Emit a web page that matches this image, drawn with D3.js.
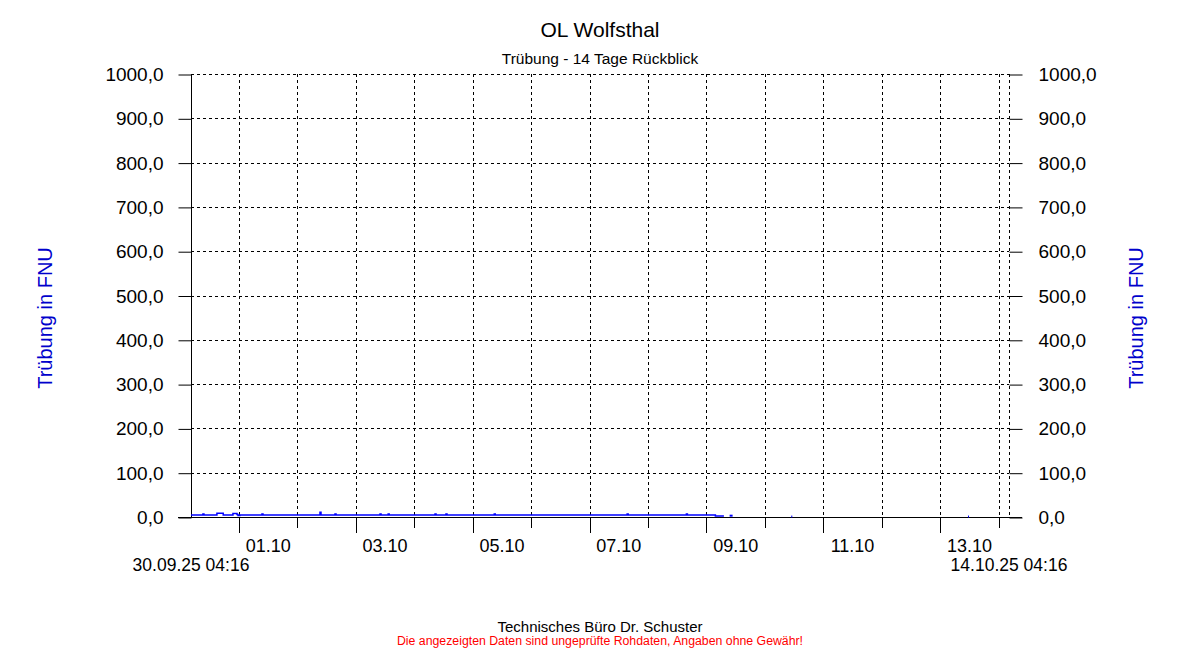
<!DOCTYPE html>
<html>
<head>
<meta charset="utf-8">
<title>OL Wolfsthal</title>
<script src="https://d3js.org/d3.v7.min.js"></script>
<style>
  html, body { margin:0; padding:0; background:#fff; }
  svg { display:block; font-family:"Liberation Sans", Arial, sans-serif; }
</style>
</head>
<body>
<svg id="chart" width="1200" height="650"></svg>
<script>
// time window
var startLabel = "30.09.25 04:16";
var endLabel = "14.10.25 04:16";

// y axis ticks
var yTicks = [0, 100, 200, 300, 400, 500, 600, 700, 800, 900, 1000];

// readings (FNU), continuous trace; null = gap
var readTimes = [
  "30.09.25 04:16", "30.09.25 08:45", "30.09.25 09:10", "30.09.25 09:35",
  "30.09.25 14:55", "30.09.25 17:30", "30.09.25 21:30", "30.09.25 23:10",
  "30.09.25 23:35", "01.10.25 00:20", "01.10.25 09:25", "01.10.25 09:50",
  "02.10.25 09:15", "02.10.25 09:40", "02.10.25 15:25", "02.10.25 15:50",
  "03.10.25 09:55", "03.10.25 10:20", "03.10.25 13:15", "03.10.25 13:40",
  "04.10.25 08:30", "04.10.25 08:55", "04.10.25 13:00", "04.10.25 13:25",
  "05.10.25 08:50", "05.10.25 09:15", "07.10.25 15:25", "07.10.25 15:50",
  "08.10.25 15:45", "08.10.25 16:10", "09.10.25 03:40", "09.10.25 07:10",
  "09.10.25 07:30"
];
var readValues = [
  4.5, 4.5, 6.5, 4.5,
  8.5, 4.5, 8.0, 5.5,
  3.5, 4.5, 6.5, 4.5,
  11.0, 4.5, 6.5, 4.5,
  6.5, 4.5, 6.5, 4.5,
  6.5, 4.5, 6.5, 4.5,
  6.5, 4.5, 6.5, 4.5,
  6.5, 4.5, 2.5, 2.5,
  null
];

// isolated readings after the trace
var dotTimes = ["09.10.25 09:55", "10.10.25 11:15", "13.10.25 11:50"];
var dotValues = [3.0, 1.0, 1.0];

var parse = d3.timeParse("%d.%m.%y %H:%M");
var t0 = parse(startLabel), t1 = parse(endLabel);

var svg = d3.select("#chart");
var mLeft = 191, mRight = 1009, mTop = 74, mBottom = 517;
var font = "Liberation Sans, Arial, sans-serif";

var x = d3.scaleTime().domain([t0, t1]).range([mLeft, mRight]);
var y = d3.scaleLinear().domain([0, 1000]).range([mBottom, mTop]);

var fmt = function(d) { return d3.format(".1f")(d).replace(".", ","); };

// titles
svg.append("text").attr("x", 600).attr("y", 37).attr("text-anchor", "middle")
  .attr("font-size", 21).text("OL Wolfsthal");
svg.append("text").attr("x", 600).attr("y", 64).attr("text-anchor", "middle")
  .attr("font-size", 15.5).text("Trübung - 14 Tage Rückblick");

// horizontal grid
svg.append("g").selectAll("line").data(yTicks.filter(function(d){ return d > 0; }))
  .enter().append("line")
  .attr("x1", mLeft).attr("x2", mRight)
  .attr("y1", function(d){ return Math.round(y(d)) + 0.5; })
  .attr("y2", function(d){ return Math.round(y(d)) + 0.5; })
  .attr("stroke", "#000").attr("stroke-dasharray", "3,3");

// vertical grid: each midnight plus end
var days = d3.timeDay.range(d3.timeDay.ceil(t0), t1);
svg.append("g").selectAll("line").data(days.concat([t1]))
  .enter().append("line")
  .attr("x1", function(d){ return Math.round(x(d)) + 0.5; })
  .attr("x2", function(d){ return Math.round(x(d)) + 0.5; })
  .attr("y1", mTop).attr("y2", mBottom)
  .attr("stroke", "#000").attr("stroke-dasharray", "3,3");

// left axis
var yl = svg.append("g").attr("transform", "translate(" + (mLeft + 0.5) + ",0.5)")
  .call(d3.axisLeft(y).tickValues(yTicks).tickSize(13).tickPadding(15).tickFormat(fmt));
yl.select(".domain").attr("d", "M0," + (mTop - 0.5) + "V" + (mBottom - 0.5));
yl.selectAll("text").attr("font-size", 19).attr("fill", "#000").attr("font-family", font);

// right axis ticks
var yr = svg.append("g").attr("transform", "translate(" + (mRight + 0.5) + ",0.5)")
  .call(d3.axisRight(y).tickValues(yTicks).tickSize(13).tickPadding(16).tickFormat(fmt));
yr.select(".domain").remove();
yr.selectAll("text").attr("font-size", 19).attr("fill", "#000").attr("font-family", font);

// baseline
svg.append("line").attr("x1", mLeft - 13).attr("x2", mRight + 13)
  .attr("y1", mBottom + 0.5).attr("y2", mBottom + 0.5).attr("stroke", "#000");

// x ticks: long on odd days, short on even days
svg.append("g").selectAll("line").data(days)
  .enter().append("line")
  .attr("x1", function(d){ return Math.round(x(d)) + 0.5; })
  .attr("x2", function(d){ return Math.round(x(d)) + 0.5; })
  .attr("y1", mBottom)
  .attr("y2", function(d){ return d.getDate() % 2 === 1 ? mBottom + 16 : mBottom + 11; })
  .attr("stroke", "#000");

var labelDays = days.filter(function(d){ return d.getDate() % 2 === 1; });
svg.append("g").selectAll("text").data(labelDays)
  .enter().append("text")
  .attr("x", function(d){ return x(d3.timeHour.offset(d, 12)); })
  .attr("y", 552).attr("text-anchor", "middle").attr("font-size", 18)
  .text(d3.timeFormat("%d.%m"));

svg.append("text").attr("x", mLeft).attr("y", 571).attr("text-anchor", "middle")
  .attr("font-size", 17.5).text(startLabel);
svg.append("text").attr("x", mRight).attr("y", 571).attr("text-anchor", "middle")
  .attr("font-size", 17.5).text(endLabel);

// axis titles
svg.append("text").attr("transform", "translate(52,318) rotate(-90)")
  .attr("text-anchor", "middle").attr("font-size", 20).attr("fill", "#0000cc")
  .text("Trübung in FNU");
svg.append("text").attr("transform", "translate(1143,318) rotate(-90)")
  .attr("text-anchor", "middle").attr("font-size", 20).attr("fill", "#0000cc")
  .text("Trübung in FNU");

// data trace
var pts = readTimes.map(function(t, i){ return { t: parse(t), v: readValues[i] }; });
var line = d3.line()
  .defined(function(d){ return d.v !== null; })
  .x(function(d){ return x(d.t); })
  .y(function(d){ return y(d.v); })
  .curve(d3.curveStepAfter);
svg.append("path").datum(pts).attr("d", line)
  .attr("fill", "none").attr("stroke", "#0000ff").attr("stroke-width", 1.5);

svg.append("g").selectAll("rect").data(dotTimes.map(function(t, i){ return { t: parse(t), v: dotValues[i] }; }))
  .enter().append("rect")
  .attr("x", function(d){ return x(d.t) - 1; })
  .attr("y", function(d){ return y(d.v) - 1; })
  .attr("width", function(d, i){ return i === 0 ? 3 : 1; })
  .attr("height", 2).attr("fill", "#0000ff");

// footer
svg.append("text").attr("x", 600).attr("y", 632).attr("text-anchor", "middle")
  .attr("font-size", 15).text("Technisches Büro Dr. Schuster");
svg.append("text").attr("x", 600).attr("y", 645).attr("text-anchor", "middle")
  .attr("font-size", 12.3).attr("fill", "#ff0000")
  .text("Die angezeigten Daten sind ungeprüfte Rohdaten, Angaben ohne Gewähr!");
</script>
</body>
</html>
